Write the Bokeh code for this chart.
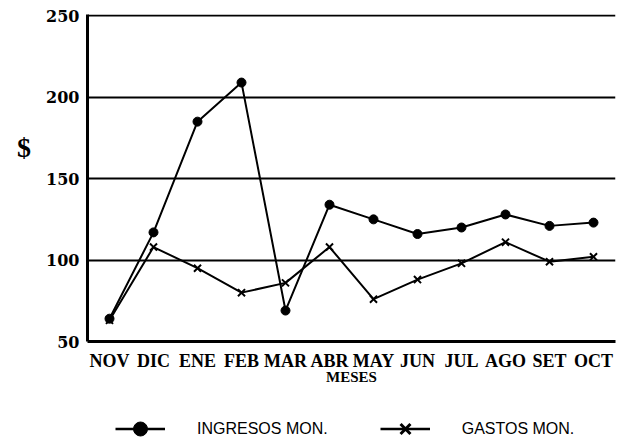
from bokeh.plotting import figure
from bokeh.layouts import column
from bokeh.models import FactorRange, Range1d, FixedTicker, Legend, LegendItem, ColumnDataSource
from bokeh.embed import file_html
from bokeh.resources import INLINE

meses = ["NOV", "DIC", "ENE", "FEB", "MAR", "ABR", "MAY", "JUN", "JUL", "AGO", "SET", "OCT"]
ingresos = [64, 117, 185, 209, 69, 134, 125, 116, 120, 128, 121, 123]
gastos = [63, 108, 95, 80, 86, 108, 76, 88, 98, 111, 99, 102]
y_ticks = [50, 100, 150, 200, 250]
series_labels = ["INGRESOS MON.", "GASTOS MON."]

p = figure(width=621, height=410, output_backend="svg", toolbar_location=None,
           x_range=FactorRange(factors=meses, range_padding=0),
           y_range=Range1d(50, 250.8),
           min_border_left=87, min_border_right=6, min_border_top=14, min_border_bottom=69)
p.outline_line_color = None
p.background_fill_color = "white"
p.border_fill_color = "white"

src = ColumnDataSource(dict(m=meses, ing=ingresos, gas=gastos))
p.line("m", "ing", source=src, line_color="black", line_width=2)
p.scatter("m", "ing", source=src, marker="circle", size=9, fill_color="black", line_color="black")
p.line("m", "gas", source=src, line_color="black", line_width=2)
p.scatter("m", "gas", source=src, marker="x", size=10, line_color="black", line_width=2)

p.xgrid.visible = False
p.ygrid.grid_line_color = "black"
p.ygrid.grid_line_width = 2
p.ygrid.ticker = FixedTicker(ticks=y_ticks)

p.yaxis.ticker = FixedTicker(ticks=y_ticks)
for ax in (p.xaxis[0], p.yaxis[0]):
    ax.axis_line_width = 3
    ax.axis_line_color = "black"
    ax.major_tick_line_color = None
    ax.minor_tick_line_color = None
    ax.major_tick_out = 0
    ax.major_tick_in = 0
    ax.major_label_text_color = "black"
    ax.axis_label_text_color = "black"
    ax.axis_label_text_font_style = "bold"

p.xaxis.major_label_text_font = "Liberation Serif"
p.xaxis.major_label_text_font_style = "bold"
p.xaxis.major_label_text_font_size = "18px"
p.xaxis.major_label_standoff = 9
p.xaxis.axis_label = "MESES"
p.xaxis.axis_label_text_font = "Liberation Serif"
p.xaxis.axis_label_text_font_size = "15px"
p.xaxis.axis_label_standoff = -5

p.yaxis.major_label_text_font = "DejaVu Serif"
p.yaxis.major_label_text_font_style = "bold"
p.yaxis.major_label_text_font_size = "16px"
p.yaxis.major_label_standoff = 8
p.yaxis.axis_label = "$\n\n"
p.yaxis.axis_label_orientation = "horizontal"
p.yaxis.axis_label_text_font = "Liberation Serif"
p.yaxis.axis_label_text_font_size = "28px"
p.yaxis.axis_label_text_line_height = 1.0
p.yaxis.axis_label_standoff = 12

# legend strip below the chart (its renderers lie outside its visible range)
p2 = figure(width=621, height=32, output_backend="svg", toolbar_location=None,
            x_range=Range1d(0, 1), y_range=Range1d(0, 1),
            x_axis_location=None, y_axis_location=None, min_border=0)
p2.outline_line_color = None
p2.xgrid.visible = False
p2.ygrid.visible = False
idx = list(range(len(meses)))
l1 = p2.line(idx, ingresos, line_color="black", line_width=2.5)
s1 = p2.scatter(idx, ingresos, marker="circle", size=14, fill_color="black", line_color="black")
l2 = p2.line(idx, gastos, line_color="black", line_width=2.5)
s2 = p2.scatter(idx, gastos, marker="x", size=14, line_color="black", line_width=3)
legend = Legend(items=[LegendItem(label=series_labels[0], renderers=[l1, s1]),
                       LegendItem(label=series_labels[1], renderers=[l2, s2])],
                location=(28, -4), orientation="horizontal",
                glyph_width=50, glyph_height=35, label_standoff=32, spacing=52,
                padding=0, margin=0, border_line_color=None, background_fill_alpha=0,
                label_text_font="Liberation Sans", label_text_font_size="16px",
                label_text_color="black")
p2.add_layout(legend, "center")

open("out.html", "w").write(file_html(column(p, p2, spacing=0), INLINE))
